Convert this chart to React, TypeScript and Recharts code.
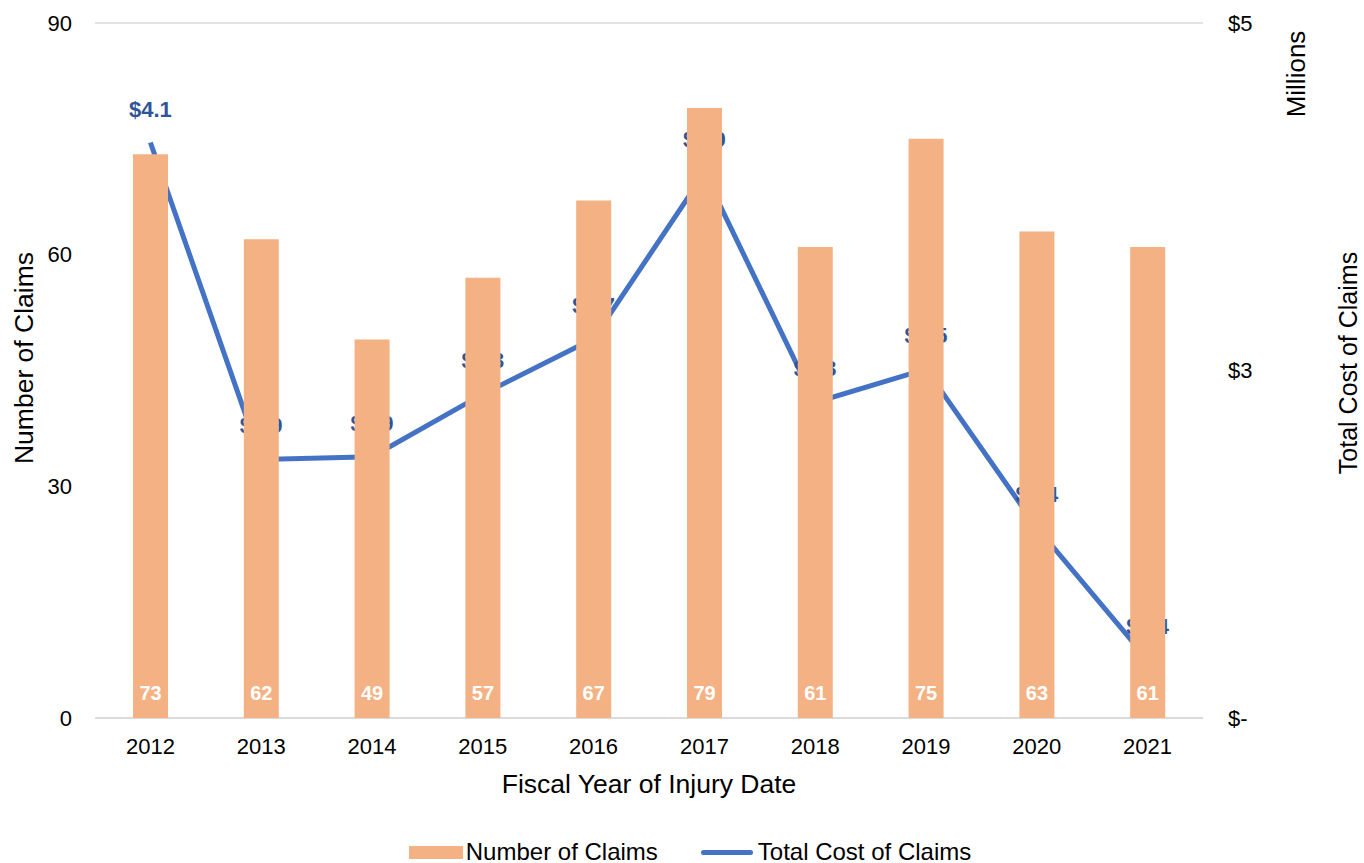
import { ComposedChart, Bar, Line, XAxis, YAxis, CartesianGrid, Legend, LabelList } from 'recharts';

const YEARS = ['2012', '2013', '2014', '2015', '2016', '2017', '2018', '2019', '2020', '2021'];
const CLAIMS = [73, 62, 49, 57, 67, 79, 61, 75, 63, 61];
// total cost, $ millions
const COST = [4.14, 1.86, 1.88, 2.33, 2.73, 3.92, 2.27, 2.51, 1.37, 0.42];

const LEFT_TICKS = [0, 30, 60, 90];
const RIGHT_TICKS = [0, 2.5, 5];

const ORANGE = '#F4B183';
const BLUE = '#4472C4';
const FONT = '"Liberation Sans", Arial, sans-serif';

const data = YEARS.map((year, i) => ({ year, claims: CLAIMS[i], cost: COST[i] }));

function money(v: number) {
  return v === 0 ? '$-' : `$${Math.round(v)}`;
}

function CostLabel(props: any) {
  const { x, y, value } = props;
  return (
    <text x={x} y={y - 26} textAnchor="middle" fontFamily={FONT} fontSize={22} fontWeight="bold" fill="#2F5597">
      ${Number(value).toFixed(1)}
    </text>
  );
}

function ClaimsLabel(props: any) {
  const { x, y, width, height, value } = props;
  return (
    <text x={x + width / 2} y={y + height - 18} textAnchor="middle" fontFamily={FONT} fontSize={20} fontWeight="bold" fill="#fff">
      {value}
    </text>
  );
}

function LegendBox() {
  return (
    <div style={{ display: 'flex', justifyContent: 'center', alignItems: 'center', paddingLeft: 16, fontFamily: FONT, fontSize: 24, color: '#000' }}>
      <span style={{ display: 'inline-block', width: 54, height: 13, background: ORANGE, marginRight: 3 }} />
      <span style={{ marginRight: 43 }}>Number of Claims</span>
      <span style={{ display: 'inline-block', width: 52, height: 5, borderRadius: 3, background: BLUE, marginRight: 5 }} />
      <span>Total Cost of Claims</span>
    </div>
  );
}

export default function App() {
  return (
    <div style={{ position: 'absolute', left: 0, top: 0, background: '#fff' }}>
      <ComposedChart width={1364} height={863} data={data} margin={{ top: 23, right: 0, left: 0, bottom: 0 }}>
        <CartesianGrid vertical={false} stroke="#d9d9d9" strokeWidth={1.3} />
        <XAxis
          dataKey="year"
          height={120}
          tickLine={false}
          tickSize={0}
          tickMargin={20}
          axisLine={{ stroke: '#d9d9d9', strokeWidth: 1.3 }}
          tick={{ fontFamily: FONT, fontSize: 22, fill: '#000' }}
          label={{ value: 'Fiscal Year of Injury Date', position: 'insideTop', offset: 56, fontFamily: FONT, fontSize: 26.5, fill: '#000' }}
        />
        <YAxis
          yAxisId="left"
          width={95}
          domain={[0, 90]}
          ticks={LEFT_TICKS}
          tickLine={false}
          axisLine={false}
          tickSize={0}
          tickMargin={23}
          tick={{ fontFamily: FONT, fontSize: 22, fill: '#000' }}
          label={() => (
            <text x={33} y={358} transform="rotate(-90 33 358)" textAnchor="middle" fontFamily={FONT} fontSize={26.5} fill="#000">
              Number of Claims
            </text>
          )}
        />
        <YAxis
          yAxisId="right"
          orientation="right"
          width={161}
          domain={[0, 5]}
          ticks={RIGHT_TICKS}
          tickFormatter={money}
          tickLine={false}
          axisLine={false}
          tickSize={0}
          tickMargin={25}
          tick={{ fontFamily: FONT, fontSize: 22, fill: '#000', textAnchor: 'start' }}
          label={() => (
            <g fontFamily={FONT} fill="#000">
              <text x={1305} y={74} transform="rotate(-90 1305 74)" textAnchor="middle" fontSize={26}>Millions</text>
              <text x={1357} y={363} transform="rotate(-90 1357 363)" textAnchor="middle" fontSize={25}>Total Cost of Claims</text>
            </g>
          )}
        />
        <Legend verticalAlign="bottom" height={25} content={() => <LegendBox />} />
        <Line
          yAxisId="right"
          dataKey="cost"
          name="Total Cost of Claims"
          stroke={BLUE}
          strokeWidth={5}
          dot={false}
          isAnimationActive={false}
          zIndex={100}
        >
          <LabelList dataKey="cost" content={CostLabel} zIndex={110} />
        </Line>
        <Bar
          yAxisId="left"
          dataKey="claims"
          name="Number of Claims"
          fill={ORANGE}
          barSize={35}
          isAnimationActive={false}
          zIndex={500}
        >
          <LabelList dataKey="claims" content={ClaimsLabel} zIndex={600} />
        </Bar>
      </ComposedChart>
    </div>
  );
}
